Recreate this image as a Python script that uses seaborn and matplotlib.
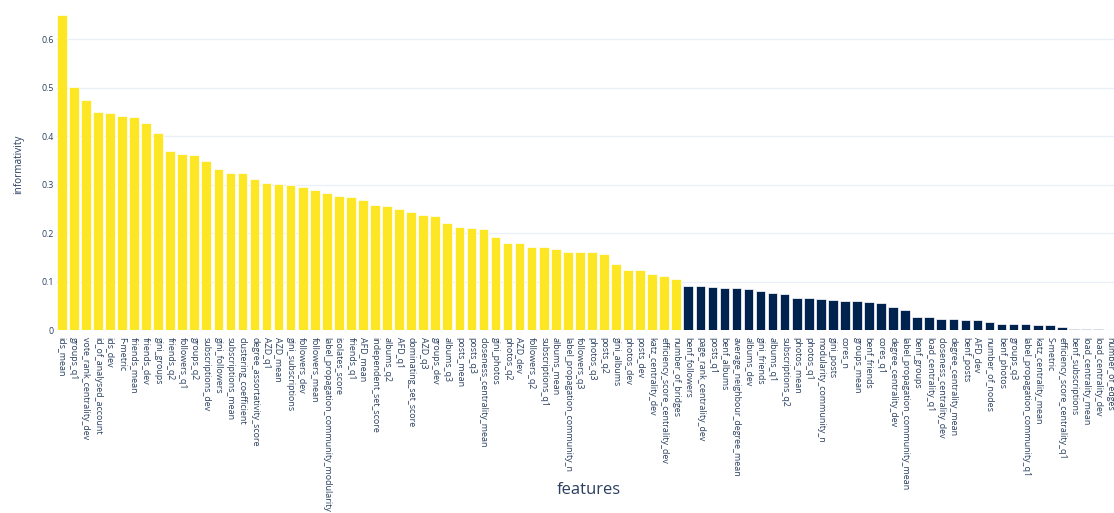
import numpy as np
import pandas as pd
import matplotlib
matplotlib.use("Agg")
import matplotlib.pyplot as plt
import seaborn as sns

# Features ordered by informativity
features = [
    "ids_mean", "groups_q1", "vote_rank_centrality_dev", "id_of_analysed_account", "ids_dev",
    "F-metric", "friends_mean", "friends_dev", "gini_groups", "friends_q2",
    "followers_q1", "groups_q2", "subscriptions_dev", "gini_followers", "subscriptions_mean",
    "clustering_coefficient", "degree_assortativity_score", "AZD_q1", "AZD_mean", "gini_subscriptions",
    "followers_dev", "followers_mean", "label_propagation_community_modularity", "isolates_score", "friends_q1",
    "AFD_mean", "independent_set_score", "albums_q2", "AFD_q1", "dominating_set_score",
    "AZD_q3", "groups_dev", "albums_q3", "posts_mean", "posts_q3",
    "closeness_centrality_mean", "gini_photos", "photos_q2", "AZD_dev", "followers_q2",
    "subscriptions_q1", "albums_mean", "label_propagation_community_n", "followers_q3", "photos_q3",
    "posts_q2", "gini_albums", "photos_dev", "posts_dev", "katz_centrality_dev",
    "efficiency_score_centrality_dev", "number_of_bridges", "benf_followers", "page_rank_centrality_dev", "posts_q1",
    "benf_albums", "average_neighbour_degree_mean", "albums_dev", "gini_friends", "albums_q1",
    "subscriptions_q2", "photos_mean", "photos_q1", "modularity_community_n", "gini_posts",
    "cores_n", "groups_mean", "benf_friends", "cores_q1", "degree_centrality_dev",
    "label_propagation_community_mean", "benf_groups", "load_centrality_q1", "closeness_centrality_dev", "degree_centrality_mean",
    "benf_posts", "AFD_dev", "number_of_nodes", "benf_photos", "groups_q3",
    "label_propagation_community_q1", "katz_centrality_mean", "S-metric", "efficiency_score_centrality_q1", "benf_subscriptions",
    "load_centrality_mean", "load_centrality_dev", "number_of_edges",
]

informativity = [
    0.650, 0.501, 0.475, 0.450, 0.447, 0.442, 0.440, 0.427, 0.406, 0.370,
    0.363, 0.362, 0.349, 0.332, 0.324, 0.323, 0.312, 0.304, 0.302, 0.299,
    0.295, 0.288, 0.282, 0.276, 0.274, 0.268, 0.257, 0.256, 0.250, 0.244,
    0.238, 0.236, 0.220, 0.212, 0.210, 0.208, 0.191, 0.179, 0.179, 0.172,
    0.172, 0.168, 0.162, 0.161, 0.160, 0.156, 0.137, 0.124, 0.124, 0.116,
    0.111, 0.106, 0.091, 0.090, 0.089, 0.087, 0.087, 0.085, 0.081, 0.077,
    0.074, 0.067, 0.067, 0.064, 0.061, 0.060, 0.060, 0.058, 0.055, 0.048,
    0.041, 0.026, 0.026, 0.023, 0.023, 0.021, 0.020, 0.017, 0.012, 0.012,
    0.012, 0.010, 0.010, 0.0055, 0.003, 0.003, 0.002, 0.001,
]

# first 52 features are selected, the rest are not
n_selected = 52
group = ["selected"] * n_selected + ["other"] * (len(features) - n_selected)

df = pd.DataFrame({"feature": features, "informativity": informativity, "group": group})

sns.set_style("white")
plt.rcParams["font.family"] = ["Open Sans", "DejaVu Sans"]

text_color = "#2a3f5f"
fig = plt.figure(figsize=(11.14, 5.13), dpi=100)
W, H = 1114, 513
left, right, top, bottom = 55.7, 1114, 0.5, 330
ax = fig.add_axes([left / W, 1 - bottom / H, (right - left) / W, (bottom - top) / H])

sns.barplot(
    data=df, x="feature", y="informativity", hue="group",
    palette={"selected": "#fde725", "other": "#00224e"},
    dodge=False, legend=False, width=0.8, saturation=1,
    edgecolor="white", linewidth=0.5, ax=ax,
)

ax.set_xlim(-0.5, 87 + (1114 - 1110) / 12.05)
ax.set_ylim(0, 0.68)
yt = [0, 0.1, 0.2, 0.3, 0.4, 0.5, 0.6]
ax.set_yticks(yt)
ax.set_yticklabels([f"{v:g}" for v in yt])
ax.yaxis.grid(True, color="#ebf0f8", linewidth=1)
ax.set_axisbelow(True)
for s in ax.spines.values():
    s.set_visible(False)

ax.tick_params(axis="x", length=0, pad=5, labelsize=6.4, labelcolor=text_color)
ax.tick_params(axis="y", length=0, pad=1.5, labelsize=6.3, labelcolor=text_color)
for lab in ax.get_xticklabels():
    lab.set_rotation(-90)
    lab.set_ha("center")
    lab.set_va("top")

ax.set_xlabel("features", fontsize=12, color=text_color)
ax.xaxis.set_label_coords((589 - left) / (right - left), (bottom - 490) / (bottom - top))
ax.xaxis.label.set_va("center")
ax.set_ylabel("informativity", fontsize=7.2, color=text_color)
ax.yaxis.set_label_coords((19 - left) / (right - left), (bottom - 164) / (bottom - top))
ax.yaxis.label.set_va("center")

fig.savefig("out.png", dpi=100, facecolor="white")
